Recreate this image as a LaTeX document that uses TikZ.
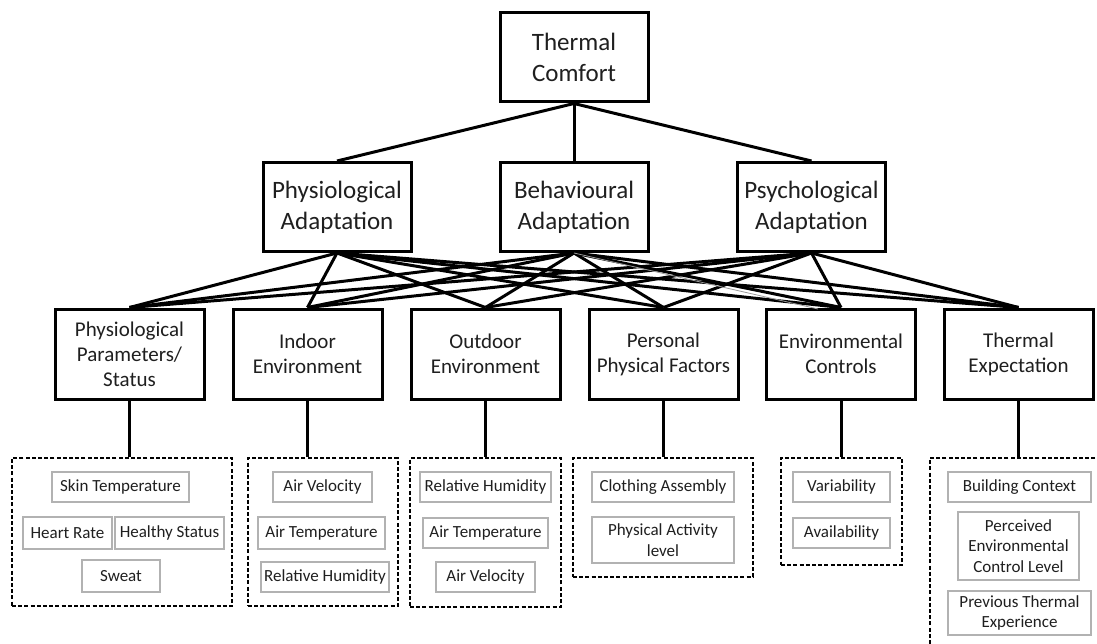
\documentclass[tikz,border=0pt]{standalone}
\usepackage{fontspec}
\setmainfont{Carlito}
\begin{document}
\begin{tikzpicture}[x=1pt,y=-1pt,
  box/.style={draw=black, line width=3pt, fill=white, inner sep=0pt, align=center, text=black!88},
  topbox/.style={box, minimum width=148pt, minimum height=89pt, font=\fontsize{25}{31}\selectfont},
  factor/.style={box, minimum width=149pt, minimum height=90pt, font=\fontsize{21}{25}\selectfont},
  group/.style={draw=black, line width=2.8pt, dash pattern=on 4pt off 2.2pt, inner sep=0pt},
  item/.style={draw=black!30, line width=1.4pt, inner sep=0pt, align=center, font=\fontsize{17}{20.5}\selectfont, text=black!88},
  link/.style={line width=3pt},
  thinlink/.style={line width=0.8pt, draw=black!40}
]
\clip (0,0) rectangle (1097,644);
\fill[white] (0,0) rectangle (1097,644);

% top and middle
\node[topbox] (TC) at (574,57.5) {Thermal\\Comfort};
\node[topbox] (PA) at (337,207) {Physiological\\Adaptation};
\node[topbox] (BA) at (574,207) {Behavioural\\Adaptation};
\node[topbox] (PsA) at (811.5,207) {Psychological\\Adaptation};

% factors
\node[factor] (F1) at (129.5,354) {Physiological\\Parameters/\\Status};
\node[factor] (F2) at (307.5,354) {Indoor\\Environment};
\node[factor] (F3) at (485.5,354) {Outdoor\\Environment};
\node[factor] (F4) at (663.5,354) {Personal\\Physical Factors};
\node[factor] (F5) at (841,354) {Environmental\\Controls};
\node[factor] (F6) at (1018.5,354) {Thermal\\Expectation};

% connectors top -> middle
\foreach \m in {PA,BA,PsA}{
  \draw[link] (TC.south) -- (\m.north);
}
% connectors middle -> factors
\foreach \m in {PA,BA,PsA}{
  \foreach \f in {F1,F2,F3,F4,F5,F6}{
    \draw[link] (\m.south) -- (\f.north);
  }
}
\coordinate (gEnd) at (818,309);
\draw[thinlink] (BA.south) -- (gEnd);

% groups (dashed)
\node[group, minimum width=220pt, minimum height=148pt] (G1) at (122,532) {};
\node[group, minimum width=150pt, minimum height=148pt] (G2) at (323,532) {};
\node[group, minimum width=151pt, minimum height=149pt] (G3) at (485.5,532.5) {};
\node[group, minimum width=180pt, minimum height=119pt] (G4) at (663,517.5) {};
\node[group, minimum width=121pt, minimum height=107pt] (G5) at (841.5,511.5) {};
\node[group, minimum width=180pt, minimum height=202pt] (G6) at (1020,559) {};

\foreach \i in {1,...,6}{
  \draw[link] (F\i.south) -- (F\i.south |- G\i.north);
}

% items group 1
\node[item, minimum width=137pt, minimum height=30pt] (i11) at (120.5,487) {Skin Temperature};
\node[item, minimum width=89pt, minimum height=32pt] (i12) at (67.5,533) {Heart Rate};
\node[item, minimum width=109pt, minimum height=32pt] (i13) at (169.5,533) {Healthy Status};
\node[item, minimum width=78pt, minimum height=32pt] (i14) at (121,576) {Sweat};
% group 2
\node[item, minimum width=99pt, minimum height=30pt] (i21) at (322.5,487) {Air Velocity};
\node[item, minimum width=127pt, minimum height=32pt] (i22) at (321.5,533) {Air Temperature};
\node[item, minimum width=128pt, minimum height=30pt] (i23) at (325,577) {Relative Humidity};
% group 3
\node[item, minimum width=131pt, minimum height=30pt] (i31) at (485.5,487) {Relative Humidity};
\node[item, minimum width=125pt, minimum height=30pt] (i32) at (485.5,533) {Air Temperature};
\node[item, minimum width=99pt, minimum height=30pt] (i33) at (485.5,577) {Air Velocity};
% group 4
\node[item, minimum width=142pt, minimum height=30pt] (i41) at (663,487) {Clothing Assembly};
\node[item, minimum width=142pt, minimum height=46pt] (i42) at (663,540) {Physical Activity\\level};
% group 5
\node[item, minimum width=97pt, minimum height=30pt] (i51) at (841.5,487) {Variability};
\node[item, minimum width=97pt, minimum height=30pt] (i52) at (841.5,533) {Availability};
% group 6
\node[item, minimum width=143pt, minimum height=30pt] (i61) at (1019.5,487) {Building Context};
\node[item, minimum width=121pt, minimum height=68pt] (i62) at (1018.5,546) {Perceived\\Environmental\\Control Level};
\node[item, minimum width=143pt, minimum height=44pt] (i63) at (1019.5,613) {Previous Thermal\\Experience};
\end{tikzpicture}
\end{document}
